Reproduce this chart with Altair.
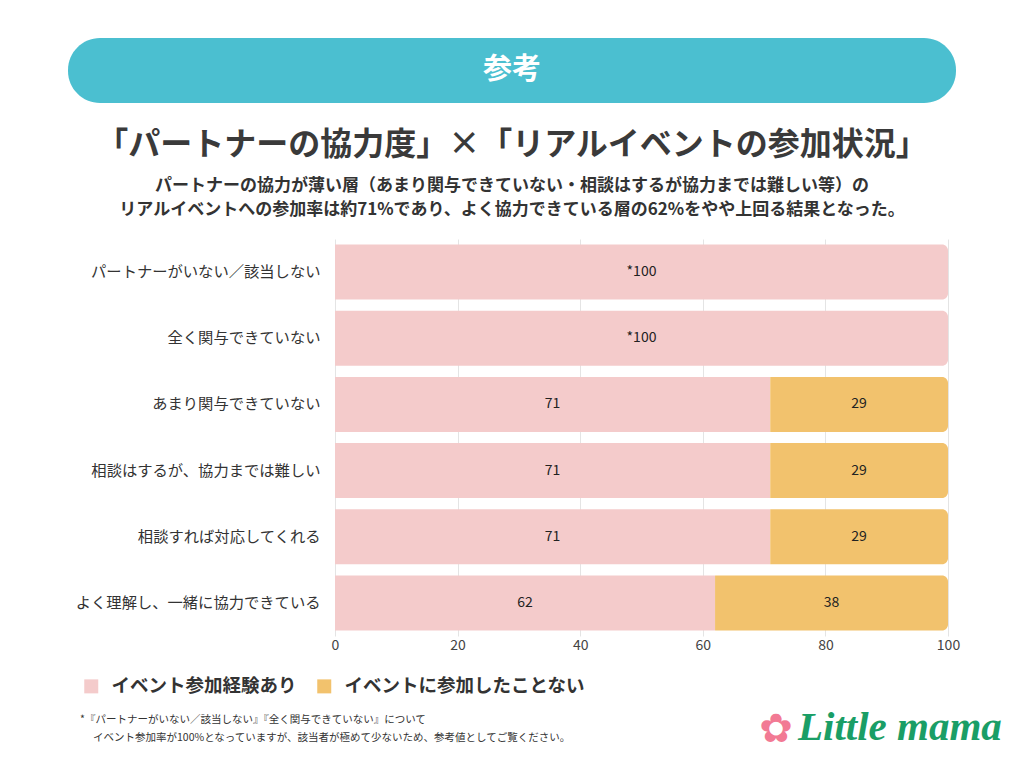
import pandas as pd
import altair as alt

FONT = "Noto Sans CJK JP"

# data
categories = [
    "パートナーがいない／該当しない",
    "全く関与できていない",
    "あまり関与できていない",
    "相談はするが、協力までは難しい",
    "相談すれば対応してくれる",
    "よく理解し、一緒に協力できている",
]
participated = [100, 100, 71, 71, 71, 62]
not_participated = [0, 0, 29, 29, 29, 38]
series = ["イベント参加経験あり", "イベントに参加したことない"]
colors = ["#F4CBCB", "#F2C26D"]
x_ticks = [0, 20, 40, 60, 80, 100]

banner = "参考"
title = "「パートナーの協力度」×「リアルイベントの参加状況」"
subtitle = [
    "パートナーの協力が薄い層（あまり関与できていない・相談はするが協力までは難しい等）の",
    "リアルイベントへの参加率は約71%であり、よく協力できている層の62%をやや上回る結果となった。",
]
footnotes = [
    "*『パートナーがいない／該当しない』『全く関与できていない』について",
    "イベント参加率が100%となっていますが、該当者が極めて少ないため、参考値としてご覧ください。",
]

rows = []
for cat, a, b in zip(categories, participated, not_participated):
    start = 0
    for name, v in zip(series, (a, b)):
        if v == 0:
            continue
        end = start + v
        rows.append(dict(cat=cat, series=name, start=start, end=end,
                         mid=(start + end) / 2,
                         label=f"*{v}" if v == 100 else str(v)))
        start = end
df = pd.DataFrame(rows)


def xenc(field):
    return alt.X(field, type="quantitative", title=None,
                 scale=alt.Scale(domain=[0, 100], nice=False),
                 axis=alt.Axis(values=x_ticks, grid=True, gridColor="#e4e4e4",
                               domain=False, ticks=False, labelFont=FONT,
                               labelFontSize=14, labelColor="#444",
                               labelPadding=2, labelFlush=False))


y = alt.Y("cat:N", sort=categories, title=None,
          scale=alt.Scale(paddingInner=0.17, paddingOuter=0.085),
          axis=alt.Axis(domain=False, ticks=False, labelFont=FONT,
                        labelFontSize=15.3, labelColor="#333",
                        labelPadding=15, labelLimit=400))

color = alt.Color("series:N", scale=alt.Scale(domain=series, range=colors),
                  legend=alt.Legend(orient="none", legendX=-253, legendY=438,
                                    direction="horizontal", title=None,
                                    symbolType="square", symbolSize=196,
                                    symbolStrokeWidth=0, labelFont=FONT,
                                    labelFontSize=18.5, labelFontWeight="bold",
                                    labelColor="#333", labelOffset=11,
                                    columnPadding=18, labelLimit=400))

base = alt.Chart(df).encode(y=y)

square = base.mark_bar().encode(
    x=xenc("start"), x2="end:Q", color=color
).transform_filter("datum.end < 100")

rounded = base.mark_bar(cornerRadiusTopRight=6, cornerRadiusBottomRight=6).encode(
    x=xenc("start"), x2="end:Q", color=color
).transform_filter("datum.end >= 100")

values = base.mark_text(font=FONT, fontSize=14, color="#222").encode(
    x=xenc("mid"), text="label:N"
)


def text(t, px, py, size, weight="normal", col="#333", align="center", font=FONT, style="normal"):
    return alt.Chart(pd.DataFrame({"t": [t]})).mark_text(
        font=font, fontSize=size, fontWeight=weight, color=col, align=align,
        baseline="middle", fontStyle=style
    ).encode(x=alt.value(px), y=alt.value(py), text="t:N")


banner_bg = alt.Chart(pd.DataFrame({"t": [banner]})).mark_rect(
    cornerRadius=32, color="#4BBFD0"
).encode(x=alt.value(-267), x2=alt.value(621), y=alt.value(-201), y2=alt.value(-136))

decor = [
    banner_bg,
    text(banner, 177, -169, 29, "bold", "white"),
    text(title, 177, -94, 32, "bold", "#3a3a3a"),
    text(subtitle[0], 177, -53, 17, "bold", "#333"),
    text(subtitle[1], 177, -29, 17, "bold", "#333"),
    text(footnotes[0], -255, 481, 10.5, "normal", "#333", "left"),
    text(footnotes[1], -242, 499, 10.5, "normal", "#333", "left"),
    text("✿", 441, 491, 40, "normal", "#F27A94", "center", "DejaVu Sans"),
    text("Little mama", 463, 489, 41, "bold", "#1A9E66", "left", "Liberation Serif", "italic"),
]

chart = alt.layer(square, rounded, values, *decor).properties(
    width=613, height=397,
    autosize=alt.AutoSizeParams(type="none"),
    padding={"left": 327, "top": 231, "right": 68, "bottom": 124},
).configure_view(strokeWidth=0)

chart.save("out.html", embed_options={"renderer": "svg", "actions": False})
